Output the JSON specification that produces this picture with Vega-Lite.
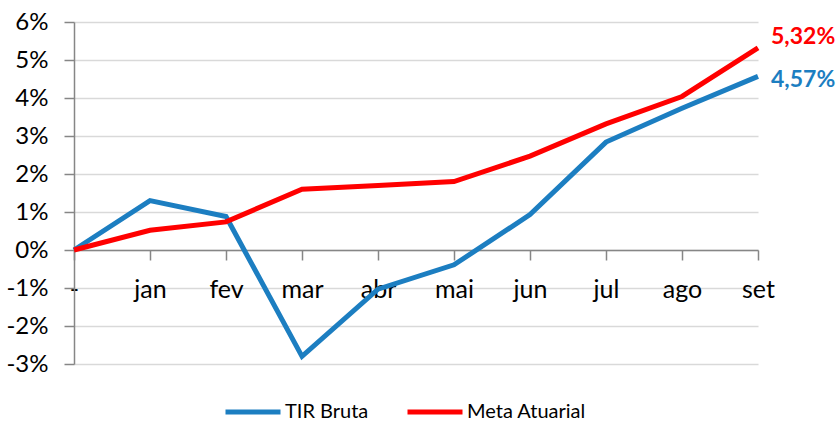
{
  "$schema": "https://vega.github.io/schema/vega-lite/v6.json",
  "autosize": "none",
  "width": 684,
  "height": 342,
  "padding": {"left": 74, "top": 22, "right": 81, "bottom": 57},
  "background": "white",
  "config": {"view": {"stroke": null}, "font": "Lato"},
  "datasets": {
    "series": [
      {"mes": "-", "serie": "TIR Bruta", "v": 0},
      {"mes": "jan", "serie": "TIR Bruta", "v": 1.3},
      {"mes": "fev", "serie": "TIR Bruta", "v": 0.88},
      {"mes": "mar", "serie": "TIR Bruta", "v": -2.8},
      {"mes": "abr", "serie": "TIR Bruta", "v": -1.03},
      {"mes": "mai", "serie": "TIR Bruta", "v": -0.39},
      {"mes": "jun", "serie": "TIR Bruta", "v": 0.93},
      {"mes": "jul", "serie": "TIR Bruta", "v": 2.84},
      {"mes": "ago", "serie": "TIR Bruta", "v": 3.73},
      {"mes": "set", "serie": "TIR Bruta", "v": 4.57},
      {"mes": "-", "serie": "Meta Atuarial", "v": 0},
      {"mes": "jan", "serie": "Meta Atuarial", "v": 0.52},
      {"mes": "fev", "serie": "Meta Atuarial", "v": 0.74},
      {"mes": "mar", "serie": "Meta Atuarial", "v": 1.6},
      {"mes": "abr", "serie": "Meta Atuarial", "v": 1.7},
      {"mes": "mai", "serie": "Meta Atuarial", "v": 1.8},
      {"mes": "jun", "serie": "Meta Atuarial", "v": 2.47},
      {"mes": "jul", "serie": "Meta Atuarial", "v": 3.32},
      {"mes": "ago", "serie": "Meta Atuarial", "v": 4.04},
      {"mes": "set", "serie": "Meta Atuarial", "v": 5.32}
    ],
    "labels": [
      {"mes": "set", "serie": "Meta Atuarial", "v": 5.32, "label": "5,32%"},
      {"mes": "set", "serie": "TIR Bruta", "v": 4.57, "label": "4,57%"}
    ]
  },
  "layer": [
    {
      "data": {"name": "series"},
      "mark": {"type": "line", "strokeWidth": 5, "strokeJoin": "miter"},
      "encoding": {
        "x": {
          "field": "mes", "type": "ordinal",
          "sort": ["-", "jan", "fev", "mar", "abr", "mai", "jun", "jul", "ago", "set"],
          "scale": {"type": "point", "padding": 0},
          "axis": {
            "title": null, "offset": -114, "labelAngle": 0, "labelOverlap": false,
            "domainColor": "#868686", "domainWidth": 1.5,
            "tickColor": "#868686", "tickWidth": 1.5, "tickSize": 10,
            "labelFontSize": 25, "labelColor": "#000000", "labelPadding": 17,
            "labelFont": "Lato", "grid": false
          }
        },
        "y": {
          "field": "v", "type": "quantitative",
          "scale": {"domain": [-3, 6], "nice": false},
          "axis": {
            "title": null, "values": [-3, -2, -1, 0, 1, 2, 3, 4, 5, 6], "tickCount": 20,
            "labelExpr": "datum.value + '%'", "labelOverlap": false,
            "domainColor": "#868686", "domainWidth": 1.5,
            "tickColor": "#868686", "tickWidth": 1.5, "tickSize": 10,
            "gridColor": "#D9D9D9", "gridWidth": 1.5,
            "labelFontSize": 24, "labelColor": "#000000", "labelPadding": 16,
            "labelFont": "Lato"
          }
        },
        "color": {
          "field": "serie", "type": "nominal",
          "sort": ["TIR Bruta", "Meta Atuarial"],
          "scale": {"domain": ["TIR Bruta", "Meta Atuarial"], "range": ["#1C7EC1", "#FF0000"]},
          "legend": {
            "title": null, "orient": "none", "direction": "horizontal",
            "legendX": 147, "legendY": 380, "padding": 0,
            "symbolType": "M-1,0H9", "symbolSize": 121, "symbolStrokeWidth": 5,
            "labelFontSize": 20, "labelColor": "#000000", "labelFont": "Lato",
            "labelOffset": 44, "columnPadding": 28
          }
        }
      }
    },
    {
      "data": {"name": "labels"},
      "transform": [{"filter": "datum.serie == 'Meta Atuarial'"}],
      "mark": {"type": "text", "align": "left", "baseline": "middle", "dx": 13, "dy": -11, "fontSize": 23, "fontWeight": "bold", "font": "Lato"},
      "encoding": {
        "x": {"field": "mes", "type": "ordinal", "sort": ["-", "jan", "fev", "mar", "abr", "mai", "jun", "jul", "ago", "set"]},
        "y": {"field": "v", "type": "quantitative"},
        "text": {"field": "label"},
        "color": {"field": "serie", "type": "nominal", "legend": null}
      }
    },
    {
      "data": {"name": "labels"},
      "transform": [{"filter": "datum.serie == 'TIR Bruta'"}],
      "mark": {"type": "text", "align": "left", "baseline": "middle", "dx": 13, "dy": 4, "fontSize": 23, "fontWeight": "bold", "font": "Lato"},
      "encoding": {
        "x": {"field": "mes", "type": "ordinal", "sort": ["-", "jan", "fev", "mar", "abr", "mai", "jun", "jul", "ago", "set"]},
        "y": {"field": "v", "type": "quantitative"},
        "text": {"field": "label"},
        "color": {"field": "serie", "type": "nominal", "legend": null}
      }
    }
  ]
}
